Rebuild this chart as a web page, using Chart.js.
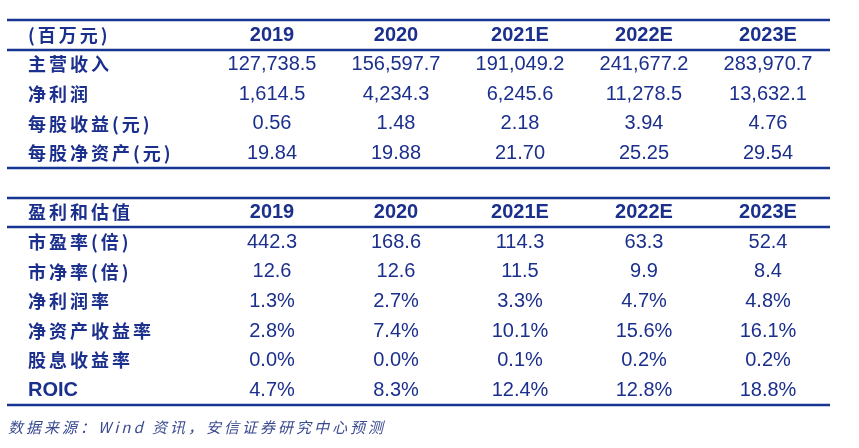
<!DOCTYPE html>
<html><head><meta charset="utf-8">
<script src="https://cdn.jsdelivr.net/npm/chart.js@4/dist/chart.umd.min.js"></script>
<style>html,body{margin:0;padding:0;background:#fff}</style>
</head><body>
<canvas id="c" width="859" height="448"></canvas>
<script>
const columns = ['', '2019', '2020', '2021E', '2022E', '2023E'];
const header1 = '(百万元)';
const rowLabels1 = ['主营收入', '净利润', '每股收益(元)', '每股净资产(元)'];
const values1 = [
  ['127,738.5', '156,597.7', '191,049.2', '241,677.2', '283,970.7'],
  ['1,614.5', '4,234.3', '6,245.6', '11,278.5', '13,632.1'],
  ['0.56', '1.48', '2.18', '3.94', '4.76'],
  ['19.84', '19.88', '21.70', '25.25', '29.54']
];
const header2 = '盈利和估值';
const rowLabels2 = ['市盈率(倍)', '市净率(倍)', '净利润率', '净资产收益率', '股息收益率', 'ROIC'];
const values2 = [
  ['442.3', '168.6', '114.3', '63.3', '52.4'],
  ['12.6', '12.6', '11.5', '9.9', '8.4'],
  ['1.3%', '2.7%', '3.3%', '4.7%', '4.8%'],
  ['2.8%', '7.4%', '10.1%', '15.6%', '16.1%'],
  ['0.0%', '0.0%', '0.1%', '0.2%', '0.2%'],
  ['4.7%', '8.3%', '12.4%', '12.8%', '18.8%']
];
const sourceText = '数据来源：Wind 资讯，安信证券研究中心预测';

const NAVY = '#1b2f8c';
const LINE = '#173592';

const tablePlugin = {
  id: 'table',
  afterDraw(chart) {
    const ctx = chart.ctx, xs = chart.scales.x, ys = chart.scales.y;
    const labelX = 28, lineL = 7, lineR = chart.chartArea.right;
    ctx.save();
    ctx.textBaseline = 'middle';
    const hline = (v) => {
      const y = Math.round(ys.getPixelForValue(v));
      ctx.strokeStyle = LINE; ctx.lineWidth = 2.5;
      ctx.beginPath(); ctx.moveTo(lineL, y); ctx.lineTo(lineR, y); ctx.stroke();
    };
    const cjk = 'bold 18px "Noto Sans CJK SC", sans-serif';
    const block = (start, header, labels, vals) => {
      let y = ys.getPixelForValue(start);
      ctx.fillStyle = NAVY;
      ctx.textAlign = 'left';
      ctx.letterSpacing = '3px';
      ctx.font = cjk;
      ctx.fillText(header, labelX, y);
      ctx.letterSpacing = '0px';
      ctx.textAlign = 'center';
      ctx.font = 'bold 20px "Liberation Sans", Arial, sans-serif';
      for (let c = 1; c < columns.length; c++) ctx.fillText(columns[c], xs.getPixelForValue(c), y);
      labels.forEach((lab, r) => {
        const yy = ys.getPixelForValue(start + 1 + r);
        ctx.textAlign = 'left';
        if (/^[A-Z]+$/.test(lab)) { ctx.letterSpacing = '0px'; ctx.font = 'bold 20px "Liberation Sans", Arial, sans-serif'; }
        else { ctx.letterSpacing = '3px'; ctx.font = cjk; }
        ctx.fillText(lab, labelX, yy);
        ctx.letterSpacing = '0px';
        ctx.textAlign = 'center';
        ctx.font = '20px "Liberation Sans", Arial, sans-serif';
        vals[r].forEach((v, c) => ctx.fillText(v, xs.getPixelForValue(c + 1), yy));
      });
      hline(start - 0.5);
      hline(start + 0.5);
      hline(start + labels.length + 0.5);
    };
    block(0, header1, rowLabels1, values1);
    const start2 = rowLabels1.length + 2;
    block(start2, header2, rowLabels2, values2);
    ctx.textAlign = 'left';
    ctx.fillStyle = '#3a4a8f';
    ctx.letterSpacing = '3px';
    ctx.font = 'italic 15px "Noto Sans CJK SC", "Liberation Serif", serif';
    ctx.fillText(sourceText, 8, ys.getPixelForValue(start2 + rowLabels2.length + 1.27));
    ctx.restore();
  }
};

new Chart(document.getElementById('c'), {
  type: 'bar',
  data: { labels: columns, datasets: [] },
  options: {
    responsive: false, animation: false,
    layout: { padding: { left: 86, right: 29, top: 0, bottom: 0 } },
    plugins: { legend: { display: false }, tooltip: { enabled: false } },
    scales: {
      x: { type: 'category', display: false, offset: true },
      y: { type: 'linear', display: false, reverse: true, min: -1.182, max: 13.953 }
    }
  },
  plugins: [tablePlugin]
});
</script>
</body></html>
